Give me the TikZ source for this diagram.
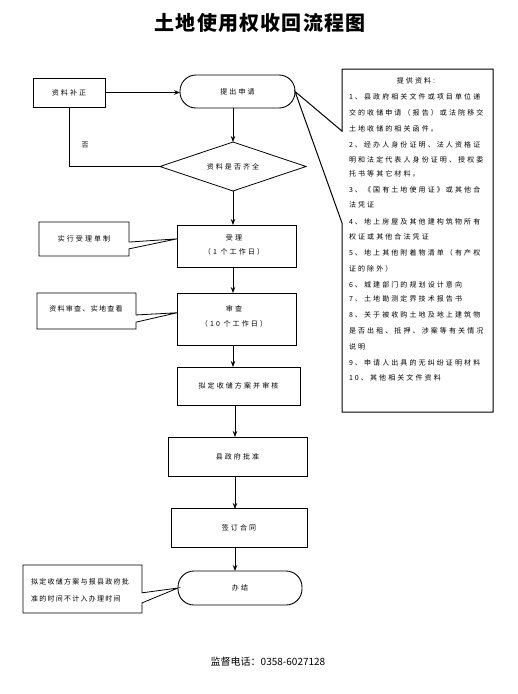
\documentclass[tikz,border=0pt]{standalone}
\usepackage{fontspec}
\setmainfont{Noto Sans CJK SC}
\newfontfamily\smf[LetterSpace=30]{Noto Sans CJK SC}
\newfontfamily\smg[LetterSpace=18]{Noto Sans CJK SC}
\usetikzlibrary{arrows.meta,shapes.geometric,calc}
\begin{document}
\begin{tikzpicture}[x=1pt,y=-1pt,
  every node/.style={inner sep=0pt, outer sep=0pt, font=\smf\fontsize{7}{8}\selectfont},
  bx/.style={draw, line width=0.9pt},
  stad/.style={draw, line width=0.9pt, rounded corners=16pt},
  ln/.style={line width=0.8pt},
  arr/.style={-{Stealth[length=6pt,width=4.5pt]}, line width=0.8pt},
  rl/.style={anchor=west}]
\useasboundingbox (0,0) rectangle (518,694);
% title
\node[font=\fontsize{20}{22}\selectfont\bfseries\addfontfeature{LetterSpace=6}] (title) at (260,23) {土地使用权收回流程图};
% main flow
\node[stad, minimum width=115pt, minimum height=33pt] (tichu) at (237.5,91.5) {提出申请};
\node[bx, minimum width=72pt, minimum height=29pt] (buzheng) at (69,92.5) {资料补正};
\node[draw, line width=0.8pt, diamond, shape aspect=3, minimum width=146pt, minimum height=49pt] (pan) at (233,166.5) {资料是否齐全};
\node[bx, minimum width=119pt, minimum height=42pt] (shouli) at (236.5,246) {};
\node (shoulia) at (234,238) {受理};
\node (shoulib) at (234,252) {（1 个工作日）};
\node[bx, minimum width=119pt, minimum height=52pt] (shencha) at (236.5,319) {};
\node (shenchaa) at (234,309) {审查};
\node (shenchab) at (234,324) {（10 个工作日）};
\node[bx, minimum width=123pt, minimum height=38pt] (niding) at (238.5,386) {拟定收储方案并审核};
\node[bx, minimum width=139pt, minimum height=39pt] (pizhun) at (237.5,456.5) {县政府批准};
\node[bx, minimum width=136pt, minimum height=39pt] (hetong) at (239,528) {签订合同};
\node[stad, minimum width=124pt, minimum height=34pt] (banjie) at (240,588) {办结};
% connectors
\draw[arr] (buzheng.east) -- (buzheng.east -| tichu.west);
\draw[arr] (pan.north |- tichu.south) -- (pan.north);
\draw[ln] (pan.west) -- (buzheng.south |- pan.west) -- (buzheng.south);
\node (fou) at (85,145) {否};
\draw[arr] (pan.south) -- (pan.south |- shouli.north);
\draw[arr] (pan.south |- shouli.south) -- (pan.south |- shencha.north);
\draw[arr] (233,345) -- (233,367);
\draw[arr] (235,405) -- (235,437);
\draw[arr] (235,476) -- (235,509);
\draw[arr] (235,547.5) -- (235,571);
% callout 1
\node[minimum width=90pt, minimum height=34pt] (c1) at (84,239) {实行受理单制};
\draw[ln] ($(c1.north east)!0.59!(c1.south east)$) -- ($(shouli.north west)!0.33!(shouli.south west)$) -- ($(c1.north east)!0.79!(c1.south east)$) -- (c1.south east) -- (c1.south west) -- (c1.north west) -- (c1.north east) -- cycle;
% callout 2
\node[minimum width=99pt, minimum height=36pt] (c2) at (86.5,311) {};
\node[font=\smg\fontsize{7}{8}\selectfont] (c2t) at (86,309) {资料审查、实地查看};
\draw[ln] ($(c2.north east)!0.61!(c2.south east)$) -- ($(shencha.north west)!0.38!(shencha.south west)$) -- ($(c2.north east)!0.81!(c2.south east)$) -- (c2.south east) -- (c2.south west) -- (c2.north west) -- (c2.north east) -- cycle;
% callout 3
\node[minimum width=119pt, minimum height=48pt] (c3) at (82.5,589) {};
\node[rl, font=\smg\fontsize{7}{8}\selectfont] (c3a) at (31,582) {拟定收储方案与报县政府批};
\node[rl, font=\smg\fontsize{7}{8}\selectfont] (c3b) at (31,599) {准的时间不计入办理时间};
\draw[ln] ($(c3.north east)!0.58!(c3.south east)$) -- (banjie.west) -- ($(c3.north east)!0.79!(c3.south east)$) -- (c3.south east) -- (c3.south west) -- (c3.north west) -- (c3.north east) -- cycle;
% right box
\node[minimum width=151pt, minimum height=343pt] (R) at (417.5,240.5) {};
\draw[line width=1pt] ($(R.north west)!0.181!(R.south west)$) -- (tichu.east) -- ($(R.north west)!0.449!(R.south west)$) -- (R.south west) -- (R.south east) -- (R.north east) -- (R.north west) -- cycle;
\node (r0) at (416,81) {提供资料:};
\node[rl] (r1) at (349,97) {1、县政府相关文件或项目单位递};
\node[rl] (r2) at (349,113) {交的收储申请（报告）或法院移交};
\node[rl] (r3) at (349,129) {土地收储的相关函件。};
\node[rl] (r4) at (349,145) {2、经办人身份证明、法人资格证};
\node[rl] (r5) at (349,160) {明和法定代表人身份证明、授权委};
\node[rl] (r6) at (349,174) {托书等其它材料。};
\node[rl] (r7) at (349,190) {3、《国有土地使用证》或其他合};
\node[rl] (r8) at (349,205) {法凭证};
\node[rl] (r9) at (349,222) {4、地上房屋及其他建构筑物所有};
\node[rl] (r10) at (349,237) {权证或其他合法凭证};
\node[rl] (r11) at (349,253) {5、地上其他附着物清单（有产权};
\node[rl] (r12) at (349,269) {证的除外）};
\node[rl] (r13) at (349,285) {6、城建部门的规划设计意向};
\node[rl] (r14) at (349,299) {7、土地勘测定界技术报告书};
\node[rl] (r15) at (349,315) {8、关于被收购土地及地上建筑物};
\node[rl] (r16) at (349,331) {是否出租、抵押、涉案等有关情况};
\node[rl] (r17) at (349,347) {说明};
\node[rl] (r18) at (349,363) {9、申请人出具的无纠纷证明材料};
\node[rl] (r19) at (349,378) {10、其他相关文件资料};
% footer
\node[font=\fontsize{10}{12}\selectfont] (foot) at (268,662) {监督电话：0358-6027128};
\end{tikzpicture}
\end{document}
